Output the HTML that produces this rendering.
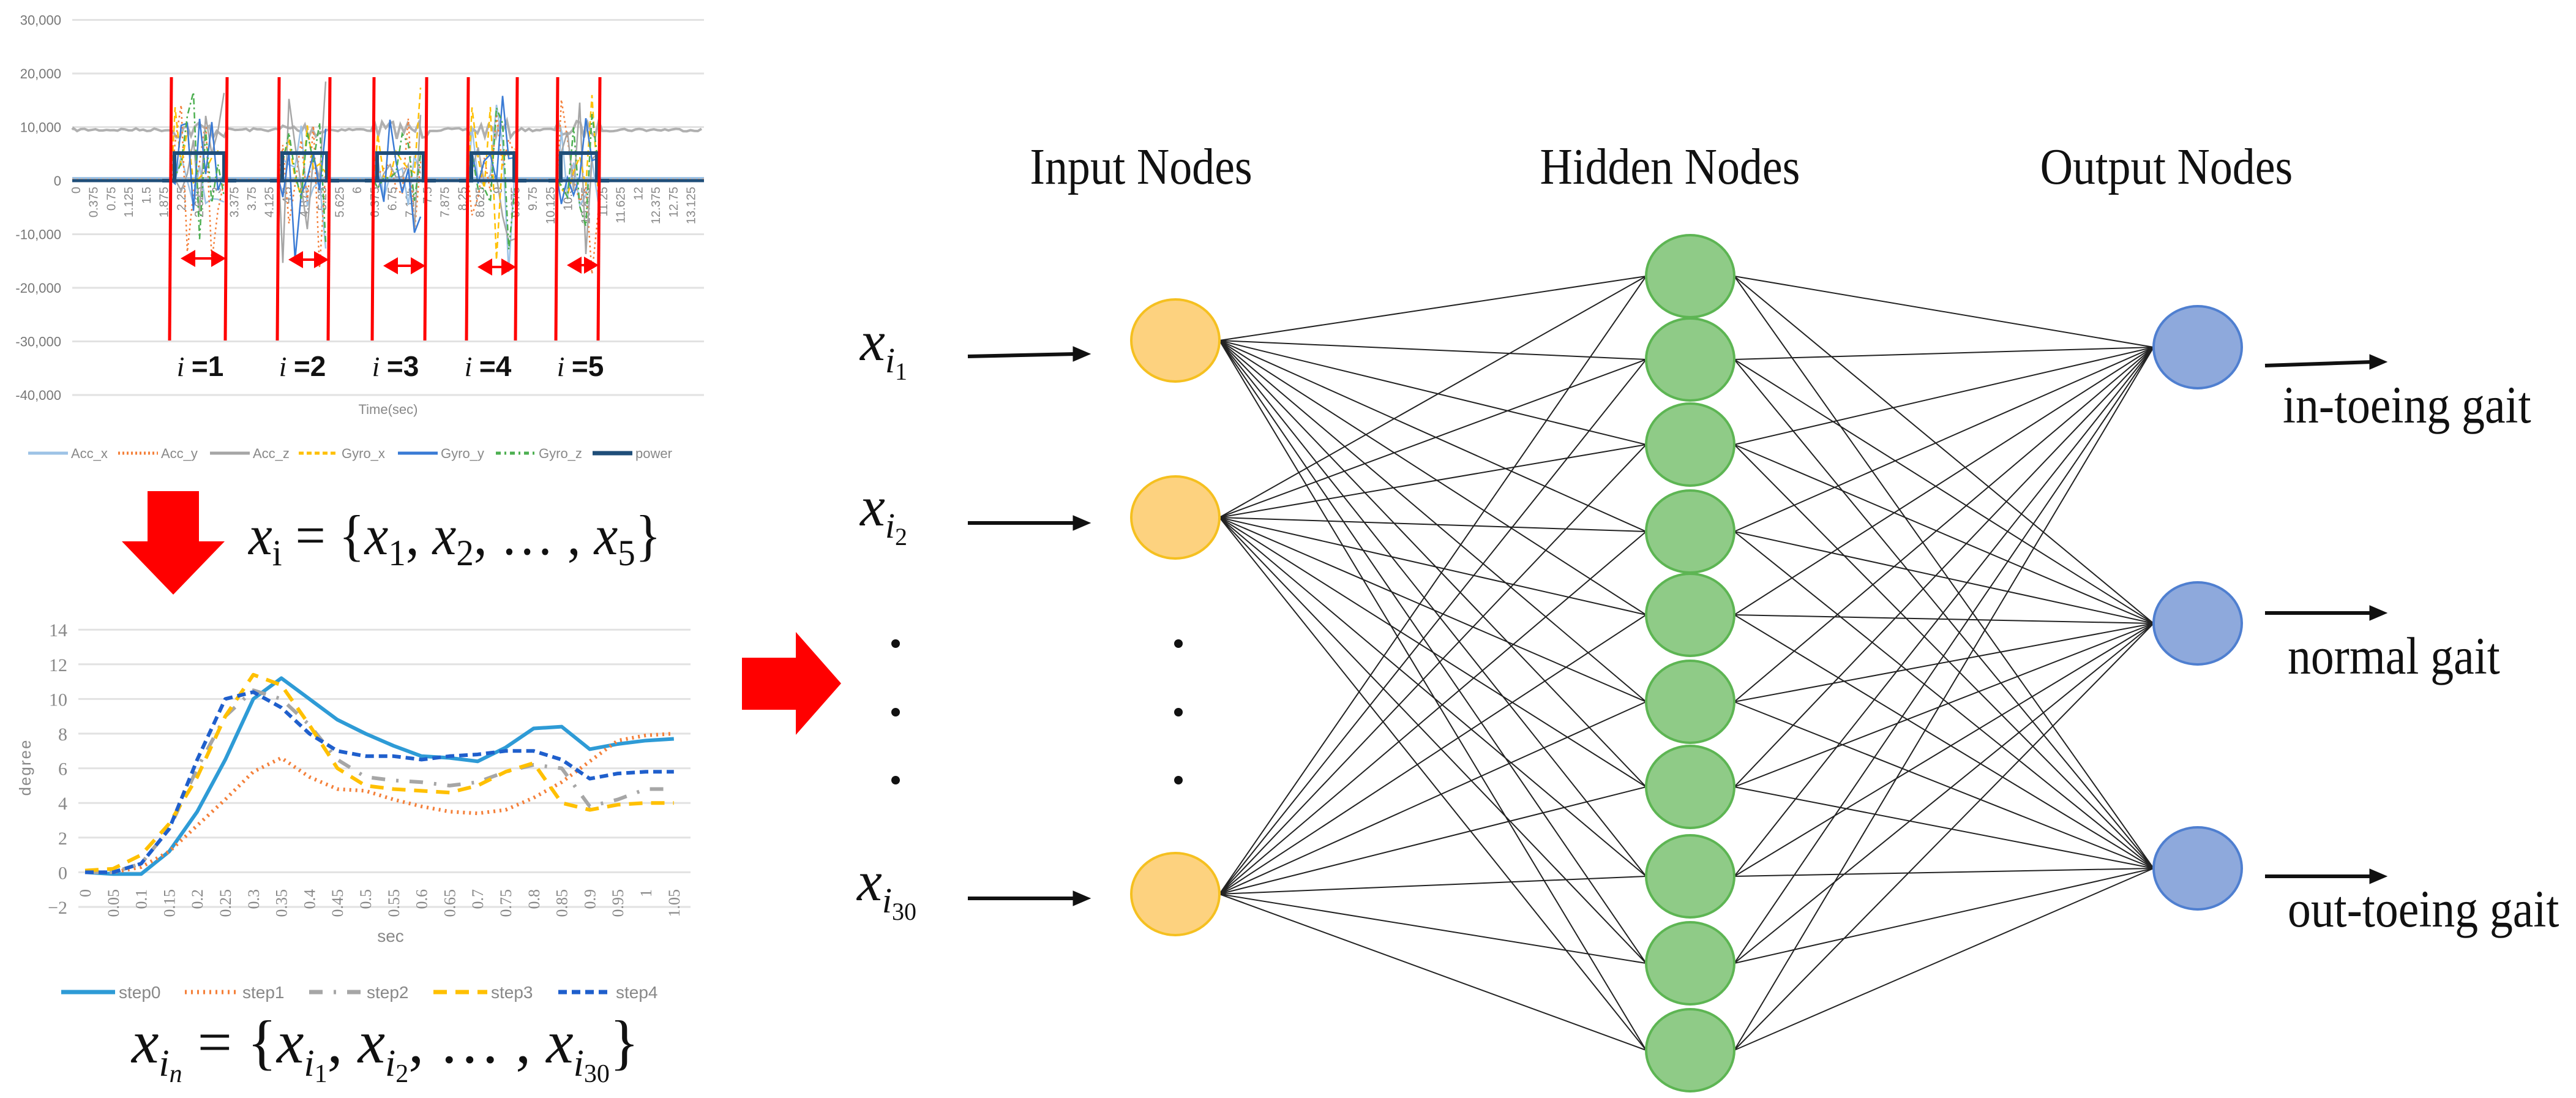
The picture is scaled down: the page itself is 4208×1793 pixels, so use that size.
<!DOCTYPE html>
<html><head><meta charset="utf-8"><style>
html,body{margin:0;padding:0;background:#fff;}
svg{display:block;}
</style></head><body>
<svg id="s" width="4208" height="1793" viewBox="0 0 4208 1793" xmlns="http://www.w3.org/2000/svg" font-family="Liberation Serif, serif">
<g id="top"></g>
<g id="bot"></g>
<g id="nn" stroke="#222" stroke-width="2"></g>
<polygon points="241,802 325,802 325,884 367,884 283,971 199,884 241,884" fill="#ff0000"/>
<polygon points="1212,1074 1300,1074 1300,1032 1374,1116 1300,1200 1300,1159 1212,1159" fill="#ff0000"/>
<text x="406" y="905" font-size="92" font-style="italic" fill="#111" transform="translate(406,0) scale(0.95,1) translate(-406,0)">x<tspan font-size="60" dy="18" font-style="normal">i</tspan><tspan dy="-18" font-style="normal"> = {</tspan>x<tspan font-size="60" dy="18" font-style="normal">1</tspan><tspan dy="-18" font-style="normal">, </tspan>x<tspan font-size="60" dy="18" font-style="normal">2</tspan><tspan dy="-18" font-style="normal">, … , </tspan>x<tspan font-size="60" dy="18" font-style="normal">5</tspan><tspan dy="-18" font-style="normal">}</tspan></text>
<text x="215" y="1735" font-size="100" font-style="italic" fill="#111">x<tspan font-size="62" dy="22">i</tspan><tspan font-size="42" dy="10">n</tspan><tspan dy="-32" font-style="normal"> = {</tspan>x<tspan font-size="62" dy="22">i</tspan><tspan font-size="42" dy="10" font-style="normal">1</tspan><tspan dy="-32" font-style="normal">, </tspan>x<tspan font-size="62" dy="22">i</tspan><tspan font-size="42" dy="10" font-style="normal">2</tspan><tspan dy="-32" font-style="normal">, … , </tspan>x<tspan font-size="62" dy="22">i</tspan><tspan font-size="42" dy="10" font-style="normal">30</tspan><tspan dy="-32" font-style="normal">}</tspan></text>
<g font-size="84" fill="#111" text-anchor="middle">
<text x="0" y="0" transform="translate(1864,300) scale(0.88,1)">Input Nodes</text>
<text x="0" y="0" transform="translate(2728,300) scale(0.88,1)">Hidden Nodes</text>
<text x="0" y="0" transform="translate(3539,300) scale(0.88,1)">Output Nodes</text>
</g>
<g font-size="86" fill="#111">
<text x="0" y="0" transform="translate(3729,690) scale(0.88,1)">in-toeing gait</text>
<text x="0" y="0" transform="translate(3737,1100) scale(0.88,1)">normal gait</text>
<text x="0" y="0" transform="translate(3737,1513) scale(0.88,1)">out-toeing gait</text>
</g>
<g font-size="92" font-style="italic" fill="#111">
<text x="1405" y="588">x<tspan font-size="58" dy="20">i</tspan><tspan font-size="40" dy="12" font-style="normal">1</tspan></text>
<text x="1405" y="858">x<tspan font-size="58" dy="20">i</tspan><tspan font-size="40" dy="12" font-style="normal">2</tspan></text>
<text x="1400" y="1470">x<tspan font-size="58" dy="20">i</tspan><tspan font-size="40" dy="12" font-style="normal">30</tspan></text>
</g>
<g fill="#111">
<circle cx="1463" cy="1051" r="7"/><circle cx="1463" cy="1163" r="7"/><circle cx="1463" cy="1274" r="7"/>
<circle cx="1925" cy="1051" r="7"/><circle cx="1925" cy="1163" r="7"/><circle cx="1925" cy="1274" r="7"/>
</g>
<g id="arrows" stroke="#111" stroke-width="6" fill="#111"></g>
<g id="nodes"></g>
</svg>
<script>
var NS="http://www.w3.org/2000/svg";
function el(p,t,a,txt){var e=document.createElementNS(NS,t);for(var k in a)e.setAttribute(k,a[k]);if(txt!==undefined)e.textContent=txt;p.appendChild(e);return e;}
var seed=7;function rnd(){seed=(seed*16807)%2147483647;return (seed-1)/2147483646;}
var nn=document.getElementById('nn'),nodes=document.getElementById('nodes'),ar=document.getElementById('arrows');
var inY=[556,845,1460],hY=[451,587,726,868,1004,1146,1285,1431,1573,1715],oY=[567,1018,1418];
var inX=1920,hX=2761,oX=3590,rx=72,ry=67;
inY.forEach(function(a){hY.forEach(function(b){el(nn,'line',{x1:inX+rx,y1:a,x2:hX-rx,y2:b});});});
hY.forEach(function(a){oY.forEach(function(b){el(nn,'line',{x1:hX+rx,y1:a,x2:oX-rx,y2:b});});});
inY.forEach(function(y){el(nodes,'ellipse',{cx:inX,cy:y,rx:rx,ry:ry,fill:'#fdd27f',stroke:'#f5c020','stroke-width':4});});
hY.forEach(function(y){el(nodes,'ellipse',{cx:hX,cy:y,rx:rx,ry:ry,fill:'#8fcb87',stroke:'#5db553','stroke-width':4});});
oY.forEach(function(y){el(nodes,'ellipse',{cx:oX,cy:y,rx:rx,ry:ry,fill:'#8ea9dc',stroke:'#4f7fd0','stroke-width':4});});
function arrow(x1,y1,x2,y2){el(ar,'line',{x1:x1,y1:y1,x2:x2-24,y2:y2});el(ar,'polygon',{points:(x2)+','+y2+' '+(x2-28)+','+(y2-12)+' '+(x2-28)+','+(y2+12),'stroke-width':1});}
arrow(1581,582,1781,578);arrow(1581,854,1781,854);arrow(1581,1467,1781,1467);
arrow(3700,597,3899,591);arrow(3700,1001,3899,1001);arrow(3700,1431,3899,1431);
var tp=document.getElementById('top');
function yv(v){return 295-v/10000*87.5;}
var labs=['30,000','20,000','10,000','0','-10,000','-20,000','-30,000','-40,000'];
for(var i=0;i<8;i++){var v=30000-i*10000,y=yv(v);el(tp,'line',{x1:118,y1:y,x2:1150,y2:y,stroke:'#e2e2e2','stroke-width':3});
el(tp,'text',{x:100,y:y+8,'font-family':'Liberation Sans Narrow, Liberation Sans, sans-serif','font-size':22,fill:'#777','text-anchor':'end'},labs[i]);}
var xl=['0','0.375','0.75','1.125','1.5','1.875','2.25','2.625','3','3.375','3.75','4.125','4.5','4.875','5.25','5.625','6','6.375','6.75','7.125','7.5','7.875','8.25','8.625','9','9.375','9.75','10.125','10.5','10.875','11.25','11.625','12','12.375','12.75','13.125'];
for(var i=0;i<xl.length;i++){var x=124+i*28.7;el(tp,'text',{x:0,y:0,transform:'translate('+(x+7)+',305) rotate(-90)','font-family':'Liberation Sans Narrow, Liberation Sans, sans-serif','font-size':20,fill:'#888','text-anchor':'end'},xl[i]);}
var win=[[280,371],[456,539],[611,697],[765,845],[911,980]];
var d='M118,'+yv(9500);for(var x=120;x<=1150;x+=6){var inw=win.some(function(w){return x>w[0]&&x<w[1];});d+=' L'+x+','+(yv(9500)+(inw?(rnd()-0.5)*30:(rnd()-0.5)*5));}
el(tp,'path',{d:d,fill:'none',stroke:'#b0b0b0','stroke-width':4});
el(tp,'line',{x1:118,y1:291,x2:1150,y2:291,stroke:'#9dc3e6','stroke-width':4});
el(tp,'line',{x1:118,y1:293,x2:1150,y2:293,stroke:'#f4b183','stroke-width':3,'stroke-dasharray':'3,4'});
var cols=[['#9dc3e6',''],['#f4803a','3,5'],['#a6a6a6',''],['#ffc000','10,6'],['#3a7bd5',''],['#4caf50','10,5,3,5']];
win.forEach(function(w){cols.forEach(function(c){var dd='M'+w[0]+',295';for(var x=w[0]+6;x<w[1];x+=10){var v=(rnd()-0.5)*2;dd+=' L'+x+','+(yv(0)-v*v*v*150*(rnd()>0.5?1:-1)-(rnd()-0.45)*80);}
el(tp,'path',{d:dd,fill:'none',stroke:c[0],'stroke-width':2.5,'stroke-dasharray':c[1]});});
el(tp,'polyline',{points:(w[0]-15)+',295 '+(w[0]+5)+',295 '+(w[0]+5)+',250 '+(w[1]-5)+',250 '+(w[1]-5)+',295 '+(w[1]+15)+',295',fill:'none',stroke:'#1f4e79','stroke-width':6});});
el(tp,'line',{x1:118,y1:295,x2:1150,y2:295,stroke:'#1f4e79','stroke-width':5});
var ay=[422,424,434,436,433],cx=[327,494,646,797,948];
win.forEach(function(w,i){
el(tp,'line',{x1:w[0],y1:126,x2:w[0]-3,y2:556,stroke:'#ff0000','stroke-width':5});
el(tp,'line',{x1:w[1],y1:126,x2:w[1]-3,y2:556,stroke:'#ff0000','stroke-width':5});
var a=w[0]+15,b=w[1]-2,y=ay[i];
el(tp,'line',{x1:a+20,y1:y,x2:b-20,y2:y,stroke:'#ff0000','stroke-width':4});
el(tp,'polygon',{points:a+','+y+' '+(a+24)+','+(y-14)+' '+(a+24)+','+(y+14),fill:'#ff0000'});
el(tp,'polygon',{points:b+','+y+' '+(b-24)+','+(y-14)+' '+(b-24)+','+(y+14),fill:'#ff0000'});
var t=el(tp,'text',{x:cx[i],y:614,'font-size':46,'text-anchor':'middle',fill:'#111','font-family':'Liberation Sans, sans-serif','font-weight':'bold'});
el(t,'tspan',{'font-family':'Liberation Serif, serif','font-style':'italic','font-weight':'normal'},'i ');
el(t,'tspan',{},'=' + (i+1));
});
el(tp,'text',{x:634,y:676,'font-size':22,fill:'#888','text-anchor':'middle','font-family':'Liberation Sans Narrow, Liberation Sans, sans-serif'},'Time(sec)');
var lg=[['Acc_x','#9dc3e6',''],['Acc_y','#f4803a','3,4'],['Acc_z','#a6a6a6',''],['Gyro_x','#ffc000','8,5'],['Gyro_y','#3a7bd5',''],['Gyro_z','#4caf50','8,6,3,6'],['power','#1f4e79','']];
var lx=[46,193,343,488,650,810,968];
lg.forEach(function(g,i){el(tp,'line',{x1:lx[i],y1:740,x2:lx[i]+65,y2:740,stroke:g[1],'stroke-width':g[0]=='power'?7:5,'stroke-dasharray':g[2]});
el(tp,'text',{x:lx[i]+70,y:748,'font-size':22,fill:'#888','font-family':'Liberation Sans Narrow, Liberation Sans, sans-serif'},g[0]);});
var bt=document.getElementById('bot');
function by(v){return 1481-(v+2)/2*56.6;}
for(var v=-2;v<=14;v+=2){var y=by(v);el(bt,'line',{x1:128,y1:y,x2:1128,y2:y,stroke:'#e2e2e2','stroke-width':3});
el(bt,'text',{x:110,y:y+11,'font-size':30,fill:'#888','text-anchor':'end'},String(v).replace('-','−'));}
var tl=['0','0.05','0.1','0.15','0.2','0.25','0.3','0.35','0.4','0.45','0.5','0.55','0.6','0.65','0.7','0.75','0.8','0.85','0.9','0.95','1','1.05'];
function bx(i){return 139+i*45.8;}
tl.forEach(function(t,i){el(bt,'text',{x:0,y:0,transform:'translate('+(bx(i)+9)+',1452) rotate(-90)','font-size':26,fill:'#888','text-anchor':'end'},t);});
el(bt,'text',{x:638,y:1538,'font-size':28,fill:'#888','text-anchor':'middle','font-family':'Liberation Sans Narrow, Liberation Sans, sans-serif'},'sec');
el(bt,'text',{x:0,y:0,transform:'translate(50,1253) rotate(-90)','font-size':26,fill:'#888','text-anchor':'middle','font-family':'Liberation Sans, sans-serif','letter-spacing':'2'},'degree');
var S=[
['#2e9bd6','',[0,-0.1,-0.1,1.2,3.5,6.5,10,11.2,10,8.8,8,7.3,6.7,6.6,6.4,7.2,8.3,8.4,7.1,7.4,7.6,7.7]],
['#f4803a','3,7',[0,0,0.3,1.2,2.7,4.2,5.8,6.6,5.5,4.8,4.7,4.2,3.8,3.5,3.4,3.6,4.3,5.2,6.4,7.6,7.9,8]],
['#a6a6a6','22,18,4,18',[0,0,0.5,2.5,6,9,10.5,10,8.5,6.5,5.5,5.3,5.2,5,5.2,5.8,6.2,6,3.8,4.2,4.8,4.8]],
['#ffc000','22,14',[0.1,0.2,1,2.8,5.5,9,11.4,10.8,8.5,6,5,4.8,4.7,4.6,5,5.8,6.3,4,3.6,3.9,4,4]],
['#1f5fcc','14,8',[0,0,0.5,2.5,6.5,10,10.4,9.5,8,7,6.7,6.7,6.5,6.7,6.8,7,7,6.5,5.4,5.7,5.8,5.8]]];
S.forEach(function(s){var p=s[2].map(function(v,i){return bx(i)+','+by(v);}).join(' ');
el(bt,'polyline',{points:p,fill:'none',stroke:s[0],'stroke-width':6,'stroke-dasharray':s[1],'stroke-linejoin':'round'});});
var bl=[['step0',100],['step1',302],['step2',505],['step3',708],['step4',912]];
bl.forEach(function(b,i){el(bt,'line',{x1:b[1],y1:1620,x2:b[1]+88,y2:1620,stroke:S[i][0],'stroke-width':7,'stroke-dasharray':S[i][1]});
el(bt,'text',{x:b[1]+94,y:1630,'font-size':28,fill:'#888','font-family':'Liberation Sans Narrow, Liberation Sans, sans-serif'},b[0]);});
</script>
</body></html>
